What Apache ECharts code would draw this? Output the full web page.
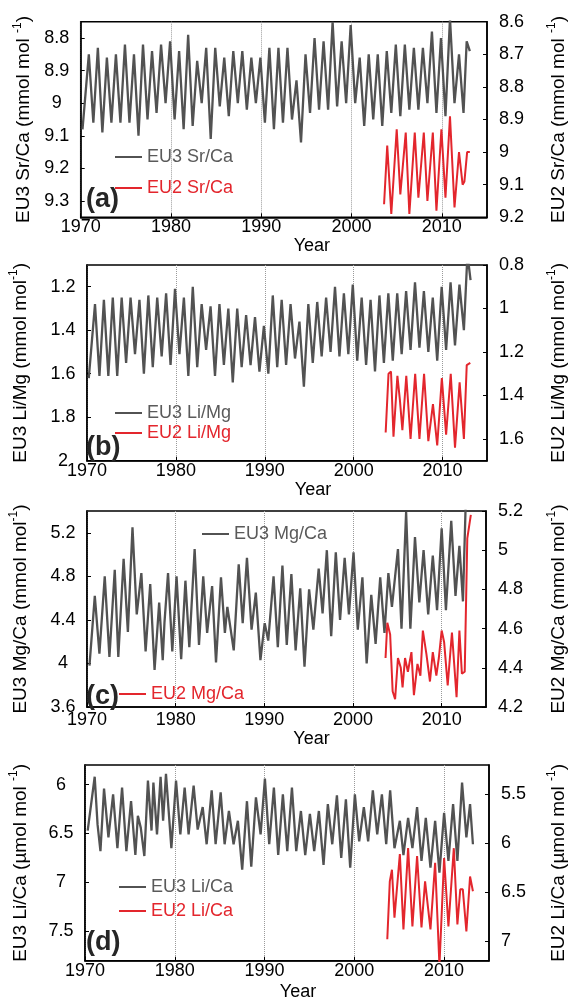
<!DOCTYPE html>
<html><head><meta charset="utf-8">
<script src="https://cdn.jsdelivr.net/npm/echarts@6/dist/echarts.min.js"></script>
<style>html,body{margin:0;padding:0;background:#fff}#c{width:576px;height:1003px}</style>
</head><body><div id="c"></div>
<script>
// ---------------- DATA ----------------
const yearTicks = [1970, 1980, 1990, 2000, 2010];

const srLeftTicks = [8.8, 8.9, 9, 9.1, 9.2, 9.3];
const srRightTicks = [8.6, 8.7, 8.8, 8.9, 9, 9.1, 9.2];
const limgLeftTicks = [1.2, 1.4, 1.6, 1.8, 2];
const limgRightTicks = [0.8, 1, 1.2, 1.4, 1.6];
const mgLeftTicks = [3.6, 4, 4.4, 4.8, 5.2];
const mgRightTicks = [4.2, 4.4, 4.6, 4.8, 5, 5.2];
const licaLeftTicks = [6, 6.5, 7, 7.5];
const licaRightTicks = [5.5, 6, 6.5, 7];

const eu3SrCa = [
[1970.2,9.08],[1970.9,8.85],[1971.4,9.06],[1971.9,8.83],[1972.4,9.09],[1972.9,8.86],[1973.4,9.06],[1973.9,8.85],
[1974.4,9.06],[1974.9,8.82],[1975.4,9.06],[1975.9,8.85],[1976.4,9.10],[1976.9,8.82],[1977.4,9.05],[1977.9,8.84],
[1978.4,9.03],[1978.9,8.82],[1979.4,9.00],[1979.9,8.81],[1980.4,9.05],[1980.9,8.84],[1981.4,9.08],[1981.9,8.79],
[1982.4,9.07],[1982.9,8.87],[1983.4,9.00],[1983.9,8.83],[1984.4,9.11],[1984.9,8.83],[1985.4,9.01],[1985.9,8.86],
[1986.4,9.04],[1986.9,8.84],[1987.4,9.00],[1987.9,8.84],[1988.4,9.02],[1988.9,8.86],[1989.4,9.00],[1989.9,8.86],
[1990.4,9.06],[1990.9,8.83],[1991.4,9.08],[1991.9,8.83],[1992.4,9.06],[1992.9,8.83],[1993.4,9.05],[1993.9,8.93],
[1994.4,9.12],[1994.9,8.85],[1995.4,9.03],[1995.9,8.80],[1996.4,9.02],[1996.9,8.81],[1997.4,9.02],[1997.9,8.75],
[1998.4,9.01],[1998.9,8.81],[1999.4,9.00],[1999.9,8.76],[2000.4,9.00],[2000.9,8.86],[2001.4,9.07],[2001.9,8.85],
[2002.4,9.05],[2002.9,8.85],[2003.4,9.07],[2003.9,8.84],[2004.4,9.03],[2004.9,8.82],[2005.4,9.04],[2005.9,8.82],
[2006.4,9.02],[2006.9,8.83],[2007.4,9.02],[2007.9,8.83],[2008.4,9.00],[2008.9,8.78],[2009.4,9.03],[2009.9,8.80],
[2010.4,9.04],[2010.9,8.74],[2011.4,9.00],[2011.9,8.85],[2012.4,9.03],[2012.75,8.81],[2013.1,8.84]
];
const eu2SrCa = [
[2003.6,9.16],[2003.95,8.98],[2004.15,8.98],[2004.4,9.19],[2005.0,8.93],[2005.4,9.13],[2006.0,8.94],[2006.4,9.19],
[2007.0,8.94],[2007.4,9.14],[2008.0,8.94],[2008.4,9.15],[2009.0,8.94],[2009.4,9.18],[2009.95,8.93],[2010.4,9.14],
[2010.9,8.89],[2011.4,9.17],[2011.9,9.00],[2012.3,9.10],[2012.5,9.09],[2012.8,9.00],[2013.1,9.00]
];

const eu3LiMg = [
[1970.2,1.62],[1970.9,1.28],[1971.4,1.61],[1971.9,1.26],[1972.4,1.61],[1972.9,1.25],[1973.4,1.61],[1973.9,1.25],
[1974.4,1.55],[1974.9,1.25],[1975.4,1.51],[1975.9,1.26],[1976.4,1.60],[1976.9,1.24],[1977.4,1.57],[1977.9,1.25],
[1978.4,1.52],[1978.9,1.23],[1979.4,1.56],[1979.9,1.21],[1980.4,1.51],[1980.9,1.25],[1981.4,1.61],[1981.9,1.20],
[1982.4,1.57],[1982.9,1.28],[1983.4,1.49],[1983.9,1.29],[1984.4,1.61],[1984.9,1.28],[1985.4,1.56],[1985.9,1.30],
[1986.4,1.64],[1986.9,1.30],[1987.4,1.57],[1987.9,1.33],[1988.4,1.56],[1988.9,1.34],[1989.4,1.59],[1989.9,1.38],
[1990.4,1.60],[1990.9,1.24],[1991.4,1.57],[1991.9,1.26],[1992.4,1.56],[1992.9,1.28],[1993.4,1.53],[1993.9,1.36],
[1994.4,1.66],[1994.9,1.28],[1995.4,1.55],[1995.9,1.27],[1996.4,1.52],[1996.9,1.25],[1997.4,1.50],[1997.9,1.20],
[1998.4,1.52],[1998.9,1.23],[1999.4,1.51],[1999.9,1.19],[2000.4,1.54],[2000.9,1.25],[2001.4,1.56],[2001.9,1.26],
[2002.4,1.59],[2002.9,1.24],[2003.4,1.55],[2003.9,1.23],[2004.4,1.54],[2004.9,1.23],[2005.4,1.51],[2005.9,1.22],
[2006.4,1.49],[2006.9,1.18],[2007.4,1.48],[2007.9,1.22],[2008.4,1.50],[2008.9,1.25],[2009.4,1.54],[2009.9,1.20],
[2010.4,1.49],[2010.9,1.18],[2011.4,1.47],[2011.9,1.19],[2012.4,1.40],[2012.8,1.05],[2013.15,1.17]
];
const eu2LiMg = [
[2003.6,1.57],[2003.92,1.30],[2004.2,1.29],[2004.48,1.59],[2004.92,1.31],[2005.2,1.42],[2005.48,1.56],[2005.92,1.31],
[2006.4,1.60],[2006.92,1.30],[2007.4,1.60],[2007.92,1.30],[2008.4,1.61],[2008.92,1.44],[2009.4,1.63],[2009.92,1.32],
[2010.4,1.58],[2010.92,1.30],[2011.4,1.64],[2011.92,1.34],[2012.4,1.60],[2012.72,1.26],[2013.12,1.25]
];

const eu3MgCa = [
[1970.28,3.98],[1970.88,4.62],[1971.40,4.09],[1972.00,4.80],[1972.53,4.06],[1973.13,4.86],[1973.53,4.06],[1974.13,4.96],
[1974.61,4.29],[1975.13,5.25],[1975.61,4.45],[1976.13,4.83],[1976.61,4.11],[1977.13,4.73],[1977.62,3.94],[1978.14,4.56],
[1978.54,4.03],[1978.74,4.38],[1979.14,4.83],[1979.62,4.11],[1980.10,4.80],[1980.62,4.04],[1981.10,4.76],[1981.54,4.15],
[1982.14,5.05],[1982.63,4.17],[1983.11,4.80],[1983.55,4.28],[1984.11,4.71],[1984.55,4.01],[1985.11,4.79],[1985.55,4.28],
[1985.83,4.52],[1986.55,4.12],[1987.11,4.91],[1987.56,4.37],[1988.04,4.97],[1988.56,4.31],[1989.04,4.65],[1989.56,4.03],
[1990.04,4.37],[1990.44,4.21],[1991.04,4.80],[1991.52,4.15],[1992.04,4.90],[1992.53,4.17],[1993.05,4.82],[1993.53,4.12],
[1994.05,4.69],[1994.53,3.97],[1995.05,4.68],[1995.53,4.31],[1996.13,4.87],[1996.57,4.46],[1997.05,5.04],[1997.54,4.25],
[1998.06,5.02],[1998.54,4.40],[1999.06,4.97],[1999.54,4.45],[2000.06,5.02],[2000.54,4.31],[2001.06,4.79],[2001.54,4.00],
[2002.06,4.63],[2002.55,4.18],[2003.07,4.79],[2003.55,4.28],[2003.99,4.83],[2004.39,4.52],[2005.07,5.05],[2005.47,4.32],
[2005.99,5.39],[2006.47,4.32],[2006.99,5.16],[2007.48,4.56],[2007.96,5.04],[2008.48,4.45],[2009.00,4.99],[2009.48,4.49],
[2010.00,5.24],[2010.48,4.49],[2011.08,5.31],[2011.56,4.62],[2012.00,5.08],[2012.40,4.57],[2012.69,5.41],[2012.85,5.60]
];
const eu2MgCa = [
[2003.67,4.45],[2003.87,4.63],[2004.19,4.57],[2004.47,4.28],[2004.75,4.24],[2005.07,4.45],[2005.39,4.40],[2005.59,4.30],
[2005.87,4.45],[2006.19,4.38],[2006.59,4.48],[2006.87,4.26],[2007.27,4.42],[2007.60,4.36],[2007.88,4.59],[2008.28,4.47],
[2008.68,4.33],[2009.00,4.48],[2009.40,4.36],[2009.68,4.45],[2010.00,4.59],[2010.28,4.53],[2010.68,4.31],[2011.16,4.58],
[2011.68,4.25],[2012.00,4.59],[2012.28,4.37],[2012.60,4.38],[2012.89,5.06],[2013.29,5.18]
];

const eu3LiCa = [
[1970.30,6.47],[1971.08,5.92],[1971.40,6.41],[1971.72,6.68],[1972.12,6.04],[1972.61,6.54],[1973.13,6.10],[1973.61,6.65],
[1974.13,6.03],[1974.61,6.68],[1975.13,6.17],[1975.61,6.72],[1975.89,6.32],[1976.21,6.44],[1976.61,6.73],[1977.01,5.96],
[1977.41,6.47],[1977.62,5.98],[1978.02,6.51],[1978.42,5.92],[1978.70,6.37],[1979.02,5.89],[1979.62,6.65],[1980.14,5.96],
[1980.62,6.51],[1981.10,6.03],[1981.54,6.51],[1982.10,6.01],[1982.55,6.46],[1983.11,6.23],[1983.55,6.61],[1984.11,6.06],
[1984.55,6.61],[1985.11,6.08],[1985.55,6.61],[1986.03,6.27],[1986.55,6.61],[1987.03,6.37],[1987.51,6.87],[1988.04,6.17],
[1988.52,6.84],[1989.04,6.13],[1989.56,6.51],[1990.04,5.94],[1990.52,6.61],[1991.04,6.03],[1991.52,6.72],[1992.04,6.10],
[1992.53,6.68],[1993.05,6.03],[1993.53,6.68],[1994.05,6.27],[1994.53,6.72],[1995.05,6.30],[1995.53,6.68],[1996.05,6.27],
[1996.57,6.82],[1997.05,6.20],[1997.54,6.61],[1998.06,6.11],[1998.54,6.75],[1999.06,6.15],[1999.54,6.85],[2000.06,6.10],
[2000.54,6.58],[2001.06,6.23],[2001.54,6.58],[2002.06,6.06],[2002.55,6.51],[2003.07,6.10],[2003.55,6.61],[2003.99,6.06],
[2004.47,6.65],[2005.07,6.37],[2005.47,6.72],[2005.99,6.34],[2006.47,6.65],[2006.99,6.23],[2007.48,6.78],[2007.96,6.34],
[2008.48,6.85],[2009.00,6.37],[2009.48,6.90],[2010.00,6.29],[2010.48,6.78],[2011.00,6.20],[2011.48,6.78],[2012.00,5.98],
[2012.48,6.54],[2012.89,6.20],[2013.21,6.61]
];
const eu2LiCa = [
[2003.67,6.98],[2003.95,6.39],[2004.19,6.27],[2004.47,6.76],[2005.07,6.11],[2005.47,6.88],[2005.99,6.05],[2006.47,6.85],
[2006.99,6.13],[2007.48,6.86],[2007.88,6.39],[2008.48,6.88],[2009.00,6.20],[2009.48,7.25],[2010.00,6.15],[2010.48,6.85],
[2011.08,6.05],[2011.48,6.83],[2011.80,6.47],[2012.08,6.47],[2012.48,6.90],[2012.89,6.34],[2013.21,6.49]
];

// ---------------- LAYOUT / STYLE ----------------
const FONT = '"Liberation Sans", Arial, Helvetica, sans-serif';
const GRAY = '#525252';
const RED = '#e3262d';

const panels = [
  { letter:'(a)', letterTop:186, eu3:eu3SrCa, eu2:eu2SrCa, n3:'EU3 Sr/Ca', n2:'EU2 Sr/Ca',
    lName:['EU3 Sr/Ca (mmol mol ','-1',')'], rName:['EU2 Sr/Ca (mmol mol ','-1',')'],
    lMin:8.75, lMax:9.35, rMin:8.6, rMax:9.2, inverse:true, lTicks:srLeftTicks, rTicks:srRightTicks,
    grid:{left:80.7, right:82.7, top:21.7, height:195.6},
    lGap:46, rGap:59, yearGap:11, yearShift:28, xMargin:1,
    leg3:{left:115, top:148}, leg2:{left:115, top:179} },
  { letter:'(b)', letterTop:434, eu3:eu3LiMg, eu2:eu2LiMg, n3:'EU3 Li/Mg', n2:'EU2 Li/Mg',
    lName:['EU3 Li/Mg (mmol mol','-1',')'], rName:['EU2 Li/Mg (mmol mol','-1',')'],
    lMin:1.1, lMax:2.0, rMin:0.8, rMax:1.7, inverse:true, lTicks:limgLeftTicks, rTicks:limgRightTicks,
    grid:{left:80.8, right:82.7, top:265, height:195.7},
    lGap:57, rGap:59, yearGap:11, yearShift:26, xMargin:1,
    leg3:{left:115, top:404}, leg2:{left:115, top:424} },
  { letter:'(c)', letterTop:683, eu3:eu3MgCa, eu2:eu2MgCa, n3:'EU3 Mg/Ca', n2:'EU2 Mg/Ca',
    lName:['EU3 Mg/Ca (mmol mol','-1',')'], rName:['EU2 Mg/Ca (mmol mol','-1',')'],
    lMin:3.6, lMax:5.4, rMin:4.2, rMax:5.2, inverse:false, lTicks:mgLeftTicks, rTicks:mgRightTicks,
    grid:{left:79, right:84.5, top:511, height:196},
    lGap:57, rGap:60, yearGap:16, yearShift:25, xMargin:4,
    leg3:{left:202, top:525}, leg2:{left:119, top:685} },
  { letter:'(d)', letterTop:929, eu3:eu3LiCa, eu2:eu2LiCa, n3:'EU3 Li/Ca', n2:'EU2 Li/Ca',
    lName:['EU3 Li/Ca (\u00b5mol mol ','-1',')'], rName:['EU2 Li/Ca (\u00b5mol mol ','-1',')'],
    lMin:5.8, lMax:7.8, rMin:5.2, rMax:7.2, inverse:true, lTicks:licaLeftTicks, rTicks:licaRightTicks,
    grid:{left:79, right:84.5, top:765, height:195.7},
    lGap:55, rGap:57, yearGap:22, yearShift:11, xMargin:1,
    leg3:{left:119, top:878}, leg2:{left:119, top:902} }
];

const fmt = v => String(+(+v).toFixed(3));
const nameRich = {
  m:{fontSize:19, fontFamily:FONT, color:'#000', lineHeight:22, verticalAlign:'bottom'},
  s:{fontSize:12, fontFamily:FONT, color:'#000', lineHeight:12, verticalAlign:'top'}
};
const richName = parts => '{m|' + parts[0] + '}{s|' + parts[1] + '}{m|' + parts[2] + '}';

const option = {
  animation:false, backgroundColor:'#fff',
  title:[], legend:[], grid:[], xAxis:[], yAxis:[], series:[]
};

panels.forEach((p, i) => {
  option.grid.push(Object.assign({show:true, borderColor:'#000', borderWidth:1.5, containLabel:false}, p.grid));
  option.title.push({text:p.letter, left:86, top:p.letterTop, padding:0,
    textStyle:{fontSize:27, fontWeight:'bold', fontFamily:FONT, color:'#262626'}});
  option.xAxis.push({
    gridIndex:i, type:'value', min:1970, max:2015, interval:10,
    name:'Year', nameLocation:'middle', nameGap:p.yearGap,
    nameTextStyle:{fontSize:18, fontFamily:FONT, color:'#000', padding:[0,0,0,p.yearShift*2]},
    axisLine:{show:true, lineStyle:{color:'#000', width:1.5}},
    axisTick:{show:true, inside:true, length:4, lineStyle:{color:'#000', width:1}, customValues:yearTicks},
    axisLabel:{customValues:yearTicks, formatter:v => String(Math.round(v)), fontSize:18, fontFamily:FONT, color:'#000', margin:p.xMargin},
    splitLine:{show:true, lineStyle:{color:'#9a9a9a', type:'dotted', width:1}}
  });
  const yBase = {
    gridIndex:i, type:'value', nameLocation:'middle',
    axisLine:{show:true, lineStyle:{color:'#000', width:1.5}},
    splitLine:{show:false}
  };
  option.yAxis.push(Object.assign({}, yBase, {
    position:'left', min:p.lMin, max:p.lMax, inverse:p.inverse,
    name:richName(p.lName), nameGap:p.lGap, nameTextStyle:{rich:nameRich},
    axisTick:{show:true, inside:true, length:4, lineStyle:{color:'#000'}, customValues:p.lTicks},
    axisLabel:{customValues:p.lTicks, formatter:fmt, align:'center', margin:24, fontSize:18, fontFamily:FONT, color:'#000'}
  }));
  option.yAxis.push(Object.assign({}, yBase, {
    position:'right', min:p.rMin, max:p.rMax, inverse:p.inverse,
    name:richName(p.rName), nameGap:p.rGap, nameTextStyle:{rich:nameRich},
    axisTick:{show:true, inside:true, length:4, lineStyle:{color:'#000'}, customValues:p.rTicks},
    axisLabel:{customValues:p.rTicks, formatter:fmt, margin:12, fontSize:18, fontFamily:FONT, color:'#000'}
  }));
  option.series.push({
    name:p.n3, type:'line', xAxisIndex:i, yAxisIndex:2*i, data:p.eu3,
    symbol:'none', showSymbol:false, clip:true, color:GRAY,
    lineStyle:{color:GRAY, width:2.3}, z:2
  });
  option.series.push({
    name:p.n2, type:'line', xAxisIndex:i, yAxisIndex:2*i+1, data:p.eu2,
    symbol:'none', showSymbol:false, clip:true, color:RED,
    lineStyle:{color:RED, width:2}, z:3
  });
  const legBase = {orient:'vertical', icon:'rect', itemWidth:27, itemHeight:2, padding:0,
    selectedMode:false, textStyle:{fontSize:18, fontFamily:FONT}};
  option.legend.push(Object.assign({}, legBase, p.leg3, {data:[{name:p.n3, textStyle:{color:'#5a5a5a'}}]}));
  option.legend.push(Object.assign({}, legBase, p.leg2, {data:[{name:p.n2, textStyle:{color:RED}}]}));
});

const chart = echarts.init(document.getElementById('c'), null, {renderer:'canvas'});
chart.setOption(option);
</script>
</body></html>
